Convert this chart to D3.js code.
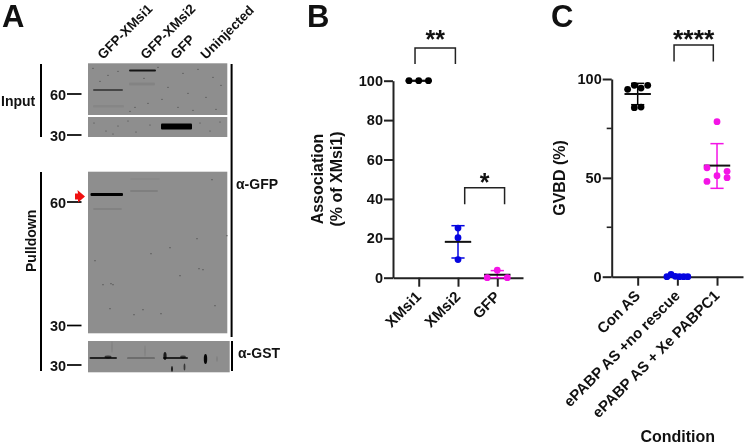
<!DOCTYPE html>
<html>
<head>
<meta charset="utf-8">
<script src="https://d3js.org/d3.v7.min.js"></script>
<style>
  html, body { margin: 0; padding: 0; background: #fff; overflow: hidden; }
  svg { display: block; filter: blur(0.35px); }
  text { font-family: "Liberation Sans", Arial, sans-serif; font-weight: bold; fill: #111; }
</style>
</head>
<body>
<svg id="figure" width="745" height="445"></svg>
<script>
// panel B values
var assocCategories = ["XMsi1", "XMsi2", "GFP"];
var assocXMsi1 = [100, 100, 100];
var assocXMsi2 = [25.2, 20.3, 9.2];
var assocGFP = [3.8, 0, 0];
var assocMeans = [100, 18.2, 1.5];
var assocUpper = [100, 26.4, 3.6];
var assocLower = [100, 10, 0];
var assocTicks = [0, 20, 40, 60, 80, 100];

// panel C values
var gvbdCategories = ["Con AS", "ePABP AS +no rescue", "ePABP AS + Xe PABPC1"];
var gvbdConAS = [94.8, 96.8, 95.4, 96.8, 85.5, 85.8];
var gvbdNoRescue = [0, 1.2, 0.2, 0, 0, 0];
var gvbdRescue = [78.4, 55.1, 53.3, 51.1, 50.1, 48.2];
var gvbdMeans = [92.4, 0.2, 56.2];
var gvbdUpper = [97.8, 0.6, 67.3];
var gvbdLower = [87, 0, 44.7];
var gvbdTicks = [0, 50, 100];
var gvbdMinorTicks = [25, 75];

var ink = "#222";
var black = "#000";
var blue = "#0505e0";
var magenta = "#f414e6";

var svg = d3.select("#figure");
var defs = svg.append("defs");
defs.append("filter").attr("id", "soft").attr("x", "-20%").attr("y", "-300%").attr("width", "140%").attr("height", "700%")
	.append("feGaussianBlur").attr("stdDeviation", 0.6);

function panelLetter(letter, x) {
	svg.append("text").attr("x", x).attr("y", 27).attr("font-size", 31).text(letter);
}
panelLetter("A", 2);
panelLetter("B", 307);
panelLetter("C", 551);

// ---------- panel A, the blot ----------
var laneLabels = ["GFP-XMsi1", "GFP-XMsi2", "GFP", "Uninjected"];
var laneLabelEnds = [[103, 60], [146, 60], [176, 60], [206, 60]];

var gels = [
	{ x: 88, y: 63.3, w: 139.3, h: 51.7,
	  bands: [[41, 68, 7.2, 2.2, 0.85], [41, 67, 20.7, 3, 0.07], [5, 35, 26.7, 2.2, 0.5], [5, 36, 43, 2.5, 0.05]],
	  specks: [[5,5],[12,18],[30,8],[70,4],[95,10],[110,6],[125,14],[133,22],[80,24],[100,30],[118,34],[60,40],[47,44],[42,48],[90,44],[128,46],[20,12],[105,47],[56,15],[74,36]] },
	{ x: 88, y: 117, w: 139.3, h: 20,
	  bands: [[73, 104, 9.5, 6, 1]],
	  specks: [[6,6],[18,14],[30,9],[40,4],[48,15],[62,8],[112,6],[122,14],[132,5],[25,17]] },
	{ x: 88, y: 171.7, w: 139.3, h: 161.6,
	  bands: [[2.5, 35, 22.8, 3, 1], [5, 34, 37.3, 1.6, 0.1], [42, 70, 19.3, 1.6, 0.14], [42, 72, 7.3, 1.5, 0.04]],
	  specks: [[124,8],[109,67],[82,76],[7,89],[63,82],[92,104],[111,97],[115,98],[15,113],[23,112],[25,113],[22,137],[46,143],[55,138],[73,142],[127,134],[139,64]] },
	{ x: 88, y: 341, w: 141.7, h: 31.3,
	  bands: [[1.5, 29, 17, 2, 0.75], [39, 67, 17, 1.7, 0.3], [75, 100, 17, 2, 0.75]],
	  specks: [] }
];
// vertical smears on the GST strip, gel pixels {x,y,rx,ry,o}
var gstSmears = [[77, 15, 1.6, 4, 0.8], [117.5, 18, 1.7, 5, 0.95], [84, 28, 1, 3, 0.8], [96.5, 26, 0.9, 3.5, 0.6], [129, 18, 0.8, 3, 0.1], [24, 6, 0.7, 6, 0.1], [57, 10, 0.7, 6, 0.1], [20, 16, 3.5, 1.4, 0.6], [95, 16, 3, 1.4, 0.6]];

gels.forEach(function(gel, i) {
	var g = svg.append("g").attr("transform", "translate(" + gel.x + "," + gel.y + ")");
	g.append("rect").attr("width", gel.w).attr("height", gel.h).attr("fill", "#8e8e8e");
	g.selectAll(".band").data(gel.bands).enter().append("rect")
		.attr("x", function(d) { return d[0]; })
		.attr("y", function(d) { return d[2] - d[3] / 2; })
		.attr("width", function(d) { return d[1] - d[0]; })
		.attr("height", function(d) { return d[3]; })
		.attr("rx", 1)
		.attr("fill", "#000")
		.attr("opacity", function(d) { return d[4]; })
		.attr("filter", "url(#soft)");
	g.selectAll(".speck").data(gel.specks).enter().append("circle")
		.attr("cx", function(d) { return d[0]; })
		.attr("cy", function(d) { return d[1]; })
		.attr("r", 0.6)
		.attr("fill", "#333")
		.attr("opacity", 0.8);
	if (i == 3) {
		g.selectAll(".smear").data(gstSmears).enter().append("ellipse")
			.attr("cx", function(d) { return d[0]; })
			.attr("cy", function(d) { return d[1]; })
			.attr("rx", function(d) { return d[2]; })
			.attr("ry", function(d) { return d[3]; })
			.attr("fill", "#000")
			.attr("opacity", function(d) { return d[4]; })
			.attr("filter", "url(#soft)");
	}
});

laneLabels.forEach(function(label, i) {
	svg.append("text")
		.attr("transform", "translate(" + laneLabelEnds[i][0] + "," + laneLabelEnds[i][1] + ") rotate(-45)")
		.attr("font-size", 13.5)
		.text(label);
});

function vline(x, y0, y1) {
	svg.append("line").attr("x1", x).attr("x2", x).attr("y1", y0).attr("y2", y1)
		.attr("stroke", "#000").attr("stroke-width", 2);
}
vline(41, 64, 137);
vline(41, 172, 371);
vline(231.6, 64, 337);
vline(232, 341, 371);

// molecular weight markers: label, baseline of the mark
var markers = [["60", 94], ["30", 135], ["60", 202], ["30", 325.5], ["30", 365]];
markers.forEach(function(m) {
	svg.append("text").attr("x", 50).attr("y", m[1] + 5.5).attr("font-size", 14.5).text(m[0]);
	svg.append("line").attr("x1", 67).attr("x2", 81.5).attr("y1", m[1]).attr("y2", m[1])
		.attr("stroke", "#000").attr("stroke-width", 1.7);
});

svg.append("text").attr("x", 1).attr("y", 106).attr("font-size", 14).text("Input");
svg.append("text").attr("transform", "translate(35.5,272) rotate(-90)").attr("font-size", 14).text("Pulldown");
svg.append("text").attr("x", 236).attr("y", 189).attr("font-size", 14).text("α-GFP");
svg.append("text").attr("x", 238).attr("y", 358).attr("font-size", 14).text("α-GST");

svg.append("path")
	.attr("d", d3.line()([[75, 193.5], [78, 193.5], [77.5, 190], [85, 196.5], [78, 202.5], [78, 199.5], [75, 199.5]]))
	.attr("fill", "#f01010");

// ---------- scatter panels ----------
var swarmStep = 6.7;

function scatterPanel(opts) {
	var x = d3.scalePoint().domain(opts.categories).range(opts.xRange).padding(0.655);
	var y = d3.scaleLinear().domain([0, 100]).range(opts.yRange);
	var g = svg.append("g");

	var yAxis = d3.axisLeft(y).tickValues(opts.ticks).tickSize(9).tickSizeOuter(0).tickFormat(d3.format("d"));
	var yG = g.append("g").attr("transform", "translate(" + opts.xRange[0] + ",0)").call(yAxis);
	var xAxis = d3.axisBottom(x).tickSize(9).tickSizeOuter(0);
	var xG = g.append("g").attr("transform", "translate(0," + opts.yRange[0] + ")").call(xAxis);

	[yG, xG].forEach(function(a) {
		a.selectAll("path, line").attr("stroke", ink).attr("stroke-width", 2);
		a.attr("font-family", null);
	});
	if (opts.minorTicks) {
		yG.selectAll(".minor").data(opts.minorTicks).enter().append("line")
			.attr("class", "minor")
			.attr("x1", -5).attr("x2", 0)
			.attr("y1", function(d) { return y(d); })
			.attr("y2", function(d) { return y(d); })
			.attr("stroke", ink).attr("stroke-width", 1.6);
	}
	yG.selectAll(".tick text").attr("font-size", 14.5).attr("fill", "#111").attr("x", -10);
	xG.selectAll(".tick text")
		.attr("font-size", 15)
		.attr("fill", "#111")
		.attr("text-anchor", "end")
		.attr("x", null).attr("dy", null)
		.attr("y", null)
		.attr("transform", "translate(3,20) rotate(-45)");

	// groups: error bars, mean line, dots
	opts.categories.forEach(function(cat, i) {
		var cx = x(cat);
		var c = opts.colors[i];
		var bars = g.append("g").attr("fill", "none").attr("stroke", c).attr("stroke-width", 1.5);
		bars.append("line").attr("x1", cx).attr("x2", cx).attr("y1", y(opts.upper[i])).attr("y2", y(opts.lower[i]));
		[opts.upper[i], opts.lower[i]].forEach(function(v) {
			bars.append("line").attr("x1", cx - 6.6).attr("x2", cx + 6.6).attr("y1", y(v)).attr("y2", y(v));
		});
		g.append("line").attr("x1", cx - 13.2).attr("x2", cx + 13.2)
			.attr("y1", y(opts.means[i])).attr("y2", y(opts.means[i]))
			.attr("stroke", "#111").attr("stroke-width", 2);
		g.selectAll(".dot" + i).data(opts.series[i]).enter().append("circle")
			.attr("cx", function(d, j) { return cx + opts.slots[i][j] * swarmStep; })
			.attr("cy", function(d) { return y(d); })
			.attr("r", 3.4)
			.attr("fill", c);
	});

	opts.brackets.forEach(function(b) {
		var x0 = x(opts.categories[b.from]) + b.dx0, x1 = x(opts.categories[b.to]) + b.dx1;
		g.append("path")
			.attr("d", d3.line()([[x0, y(b.foot)], [x0, y(b.top)], [x1, y(b.top)], [x1, y(b.foot)]]))
			.attr("fill", "none").attr("stroke", "#222").attr("stroke-width", 1.5);
		g.append("text").attr("x", (x0 + x1) / 2).attr("y", y(b.top) + b.starDy)
			.attr("text-anchor", "middle").attr("font-size", b.starSize).text(b.stars);
	});
}

scatterPanel({
	categories: assocCategories,
	xRange: [393, 523],
	yRange: [277.7, 80.7],
	ticks: assocTicks,
	series: [assocXMsi1, assocXMsi2, assocGFP],
	slots: [[-1.45, 0, 1.45], [0, 0, 0], [0, -1.5, 1.5]],
	means: assocMeans, upper: assocUpper, lower: assocLower,
	colors: [black, blue, magenta],
	brackets: [
		{ from: 0, to: 1, dx0: -3.7, dx1: -2.6, top: 116.6, foot: 108.5, stars: "**", starSize: 25, starDy: 0 },
		{ from: 1, to: 2, dx0: 6.7, dx1: 7.3, top: 45.6, foot: 37.3, stars: "*", starSize: 25, starDy: 3 }
	]
});

scatterPanel({
	categories: gvbdCategories,
	xRange: [611.7, 743],
	yRange: [276.7, 79],
	ticks: gvbdTicks,
	minorTicks: gvbdMinorTicks,
	series: [gvbdConAS, gvbdNoRescue, gvbdRescue],
	slots: [[-1.5, -0.5, 0.5, 1.5, -0.5, 0.5], [-1.56, -0.94, -0.31, 0.31, 0.94, 1.56], [0, -1.5, 1.5, 0, 1.5, -1.5]],
	means: gvbdMeans, upper: gvbdUpper, lower: gvbdLower,
	colors: [black, blue, magenta],
	brackets: [
		{ from: 1, to: 2, dx0: -3.3, dx1: -3.7, top: 117.2, foot: 108.8, stars: "****", starSize: 26.5, starDy: 3 }
	]
});

// axis titles
svg.append("text").attr("transform", "translate(323,179) rotate(-90)").attr("text-anchor", "middle").attr("font-size", 16).text("Association");
svg.append("text").attr("transform", "translate(342,179) rotate(-90)").attr("text-anchor", "middle").attr("font-size", 16).text("(% of XMsi1)");
svg.append("text").attr("transform", "translate(565,178) rotate(-90)").attr("text-anchor", "middle").attr("font-size", 16).text("GVBD (%)");
svg.append("text").attr("x", 677.7).attr("y", 442).attr("text-anchor", "middle").attr("font-size", 16).text("Condition");
</script>
</body>
</html>
